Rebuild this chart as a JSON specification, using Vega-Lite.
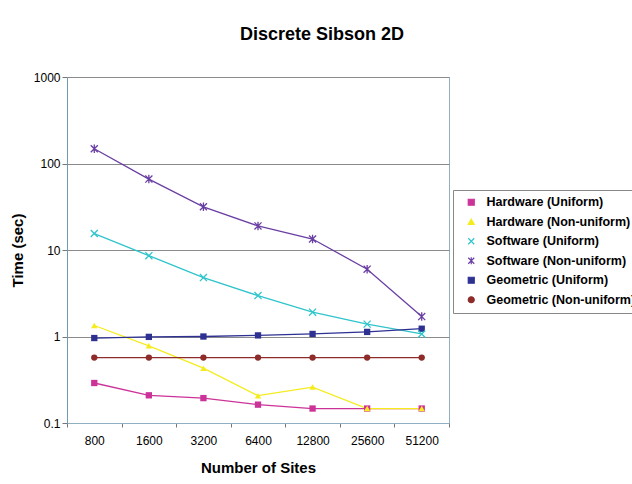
{
  "$schema": "https://vega.github.io/schema/vega-lite/v6.json",
  "autosize": {"type": "none"},
  "padding": {"left": 67, "top": 77, "right": 183, "bottom": 61},
  "width": 382,
  "height": 346,
  "background": "white",
  "title": {
    "text": "Discrete Sibson 2D",
    "anchor": "middle",
    "dx": 64,
    "offset": 27,
    "font": "Liberation Sans",
    "fontSize": 18,
    "fontWeight": "bold",
    "color": "#000000"
  },
  "config": {
    "font": "Liberation Sans",
    "view": {"stroke": "#8fb0c0", "strokeWidth": 1}
  },
  "data": {
    "values": [
      {"sites": 800, "series": "Hardware (Uniform)", "time": 0.29},
      {"sites": 1600, "series": "Hardware (Uniform)", "time": 0.209},
      {"sites": 3200, "series": "Hardware (Uniform)", "time": 0.194},
      {"sites": 6400, "series": "Hardware (Uniform)", "time": 0.163},
      {"sites": 12800, "series": "Hardware (Uniform)", "time": 0.147},
      {"sites": 25600, "series": "Hardware (Uniform)", "time": 0.147},
      {"sites": 51200, "series": "Hardware (Uniform)", "time": 0.147},
      {"sites": 800, "series": "Hardware (Non-uniform)", "time": 1.34},
      {"sites": 1600, "series": "Hardware (Non-uniform)", "time": 0.78},
      {"sites": 3200, "series": "Hardware (Non-uniform)", "time": 0.43},
      {"sites": 6400, "series": "Hardware (Non-uniform)", "time": 0.207},
      {"sites": 12800, "series": "Hardware (Non-uniform)", "time": 0.26},
      {"sites": 25600, "series": "Hardware (Non-uniform)", "time": 0.147},
      {"sites": 51200, "series": "Hardware (Non-uniform)", "time": 0.147},
      {"sites": 800, "series": "Software (Uniform)", "time": 15.5},
      {"sites": 1600, "series": "Software (Uniform)", "time": 8.6},
      {"sites": 3200, "series": "Software (Uniform)", "time": 4.8},
      {"sites": 6400, "series": "Software (Uniform)", "time": 2.97},
      {"sites": 12800, "series": "Software (Uniform)", "time": 1.91},
      {"sites": 25600, "series": "Software (Uniform)", "time": 1.39},
      {"sites": 51200, "series": "Software (Uniform)", "time": 1.07},
      {"sites": 800, "series": "Software (Non-uniform)", "time": 148},
      {"sites": 1600, "series": "Software (Non-uniform)", "time": 66},
      {"sites": 3200, "series": "Software (Non-uniform)", "time": 31.6},
      {"sites": 6400, "series": "Software (Non-uniform)", "time": 19},
      {"sites": 12800, "series": "Software (Non-uniform)", "time": 13.4},
      {"sites": 25600, "series": "Software (Non-uniform)", "time": 6.0},
      {"sites": 51200, "series": "Software (Non-uniform)", "time": 1.7},
      {"sites": 800, "series": "Geometric (Uniform)", "time": 0.96},
      {"sites": 1600, "series": "Geometric (Uniform)", "time": 0.99},
      {"sites": 3200, "series": "Geometric (Uniform)", "time": 1.0},
      {"sites": 6400, "series": "Geometric (Uniform)", "time": 1.03},
      {"sites": 12800, "series": "Geometric (Uniform)", "time": 1.07},
      {"sites": 25600, "series": "Geometric (Uniform)", "time": 1.13},
      {"sites": 51200, "series": "Geometric (Uniform)", "time": 1.23},
      {"sites": 800, "series": "Geometric (Non-uniform)", "time": 0.57},
      {"sites": 1600, "series": "Geometric (Non-uniform)", "time": 0.57},
      {"sites": 3200, "series": "Geometric (Non-uniform)", "time": 0.57},
      {"sites": 6400, "series": "Geometric (Non-uniform)", "time": 0.57},
      {"sites": 12800, "series": "Geometric (Non-uniform)", "time": 0.57},
      {"sites": 25600, "series": "Geometric (Non-uniform)", "time": 0.57},
      {"sites": 51200, "series": "Geometric (Non-uniform)", "time": 0.57}
    ]
  },
  "encoding": {
    "x": {
      "field": "sites",
      "type": "ordinal",
      "scale": {"type": "band", "paddingInner": 0, "paddingOuter": 0},
      "axis": {
        "title": "Number of Sites",
        "titleFontSize": 15,
        "titleFontWeight": "bold",
        "titleColor": "#000000",
        "titlePadding": 14,
        "labelAngle": 0,
        "labelFontSize": 12,
        "labelColor": "#000000",
        "labelPadding": 8,
        "tickBand": "extent",
        "tickColor": "#777777",
        "tickSize": 4,
        "domainColor": "#8fb0c0",
        "grid": false
      }
    },
    "y": {
      "field": "time",
      "type": "quantitative",
      "scale": {"type": "log", "domain": [0.1, 1000], "nice": false},
      "axis": {
        "title": "Time (sec)",
        "titleFontSize": 15,
        "titleFontWeight": "bold",
        "titleColor": "#000000",
        "titlePadding": 8,
        "values": [0.1, 1, 10, 100, 1000],
        "format": "~g",
        "labelFontSize": 12,
        "labelColor": "#000000",
        "labelPadding": 2,
        "tickColor": "#777777",
        "tickSize": 5,
        "domainColor": "#6f9cb3",
        "grid": true,
        "gridColor": "#8a8a8a",
        "gridWidth": 1
      }
    },
    "color": {
      "field": "series",
      "type": "nominal",
      "scale": {
        "domain": ["Hardware (Uniform)", "Hardware (Non-uniform)", "Software (Uniform)", "Software (Non-uniform)", "Geometric (Uniform)", "Geometric (Non-uniform)"],
        "range": ["#cc3399", "#f5ec1e", "#2fc4cc", "#6a3fa3", "#2e3192", "#8e2b2b"]
      },
      "legend": {
        "title": null,
        "orient": "none",
        "legendX": 386,
        "legendY": 113,
        "padding": 6,
        "strokeColor": "#888888",
        "fillColor": "white",
        "labelFontSize": 12.5,
        "labelFontWeight": "bold",
        "labelColor": "#000000",
        "rowPadding": 6.5,
        "symbolSize": 36,
        "symbolOffset": 6,
        "labelOffset": 9,
        "symbolStrokeWidth": 1.2
      }
    }
  },
  "layer": [
    {
      "mark": {"type": "line", "strokeWidth": 1.3},
      "encoding": {"detail": {"field": "series"}}
    },
    {
      "transform": [{"filter": "indexof(['Software (Uniform)','Software (Non-uniform)'], datum.series) < 0"}],
      "mark": {"type": "point", "filled": true, "opacity": 1, "size": 40},
      "encoding": {
        "shape": {
          "field": "series",
          "type": "nominal",
          "scale": {
            "domain": ["Hardware (Uniform)", "Hardware (Non-uniform)", "Software (Uniform)", "Software (Non-uniform)", "Geometric (Uniform)", "Geometric (Non-uniform)"],
            "range": ["square", "triangle-up", "M-1,-1L1,1M-1,1L1,-1", "M-1,-1L1,1M-1,1L1,-1M0,-1.2L0,1.2", "square", "circle"]
          },
          "legend": null
        }
      }
    },
    {
      "transform": [{"filter": "indexof(['Software (Uniform)','Software (Non-uniform)'], datum.series) >= 0"}],
      "mark": {"type": "point", "filled": false, "opacity": 1, "size": 50, "strokeWidth": 1.3},
      "encoding": {
        "shape": {
          "field": "series",
          "type": "nominal",
          "legend": null
        }
      }
    }
  ]
}
